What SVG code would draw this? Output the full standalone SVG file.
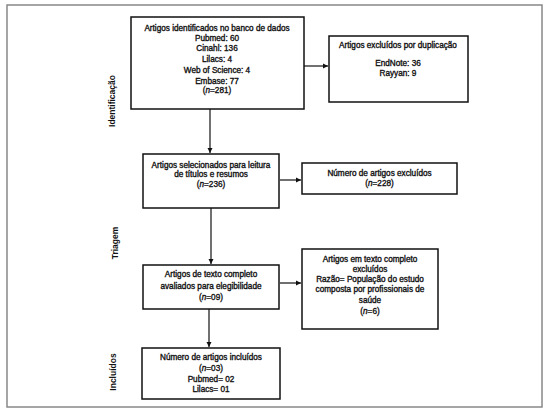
<svg xmlns="http://www.w3.org/2000/svg" width="550" height="411" viewBox="0 0 550 411">
<style>
.box{fill:#fff;stroke:#111;stroke-width:1.5}
.t{font-family:"Liberation Sans",Arial,sans-serif;font-size:8.2px;fill:#111;text-anchor:middle;stroke:#111;stroke-width:0.35}
.side{font-family:"Liberation Sans",Arial,sans-serif;font-size:8.5px;font-weight:bold;fill:#111;text-anchor:middle}
.c{stroke:#111;stroke-width:1.2;fill:none;marker-end:url(#ah)}
</style>
<defs>
<marker id="ah" markerWidth="6" markerHeight="6" refX="5" refY="3" orient="auto" markerUnits="userSpaceOnUse">
<path d="M0,0.5 L5,3 L0,5.5 Z" fill="#111"/>
</marker>
</defs>
<rect x="0" y="0" width="550" height="411" fill="#fff"/>
<rect x="7" y="5" width="535" height="402" fill="#fff" stroke="#888" stroke-width="1.5"/>
<g id="labels">
<text class="side" transform="translate(115,101) rotate(-90)">Identificação</text>
<text class="side" transform="translate(118,243) rotate(-90)">Triagem</text>
<text class="side" transform="translate(116,372) rotate(-90)">Incluídos</text>
</g>
<g id="connectors">
<path class="c" d="M303,66 L328,66"/>
<path class="c" d="M210,109 L210,153"/>
<path class="c" d="M280,180 L301,180"/>
<path class="c" d="M211,208 L211,264"/>
<path class="c" d="M280,283 L301,283"/>
<path class="c" d="M209,309 L209,347"/>
</g>
<g id="n1">
<rect class="box" x="131" y="17" width="173" height="92"/>
<text class="t" x="217" y="30.5">Artigos identificados no banco de dados</text>
<text class="t" x="217" y="40.5">Pubmed: 60</text>
<text class="t" x="217" y="51.3">Cinahl: 136</text>
<text class="t" x="217" y="62.2">Lilacs: 4</text>
<text class="t" x="217" y="73">Web of Science: 4</text>
<text class="t" x="217" y="83.6">Embase: 77</text>
<text class="t" x="217" y="93.2">(<tspan font-style="italic">n</tspan>=281)</text>
</g>
<g id="n2">
<rect class="box" x="329" y="36" width="139" height="66"/>
<text class="t" x="398" y="48">Artigos excluídos por duplicação</text>
<text class="t" x="398" y="65.5">EndNote: 36</text>
<text class="t" x="398" y="76.2">Rayyan: 9</text>
</g>
<g id="n3">
<rect class="box" x="143" y="154" width="136" height="54"/>
<text class="t" x="211" y="168">Artigos selecionados para leitura</text>
<text class="t" x="211" y="177.3">de títulos e resumos</text>
<text class="t" x="211" y="187.3">(<tspan font-style="italic">n</tspan>=236)</text>
</g>
<g id="n4">
<rect class="box" x="302" y="163" width="155" height="31"/>
<text class="t" x="379.5" y="176.3">Número de artigos excluídos</text>
<text class="t" x="379.5" y="186.3">(<tspan font-style="italic">n</tspan>=228)</text>
</g>
<g id="n5">
<rect class="box" x="143" y="265" width="136" height="44"/>
<text class="t" x="211" y="277.3">Artigos de texto completo</text>
<text class="t" x="211" y="288.7">avaliados para elegibilidade</text>
<text class="t" x="211" y="299.7">(<tspan font-style="italic">n</tspan>=09)</text>
</g>
<g id="n6">
<rect class="box" x="302" y="249" width="136" height="80"/>
<text class="t" x="370" y="262">Artigos em texto completo</text>
<text class="t" x="370" y="272">excluídos</text>
<text class="t" x="370" y="282">Razão= População do estudo</text>
<text class="t" x="370" y="292.3">composta por profissionais de</text>
<text class="t" x="370" y="303">saúde</text>
<text class="t" x="370" y="313.7">(<tspan font-style="italic">n</tspan>=6)</text>
</g>
<g id="n7">
<rect class="box" x="142" y="348" width="138" height="51"/>
<text class="t" x="211" y="359.7">Número de artigos incluídos</text>
<text class="t" x="211" y="371.3">(<tspan font-style="italic">n</tspan>=03)</text>
<text class="t" x="211" y="382.3">Pubmed= 02</text>
<text class="t" x="211" y="392.3">Lilacs= 01</text>
</g>
</svg>
